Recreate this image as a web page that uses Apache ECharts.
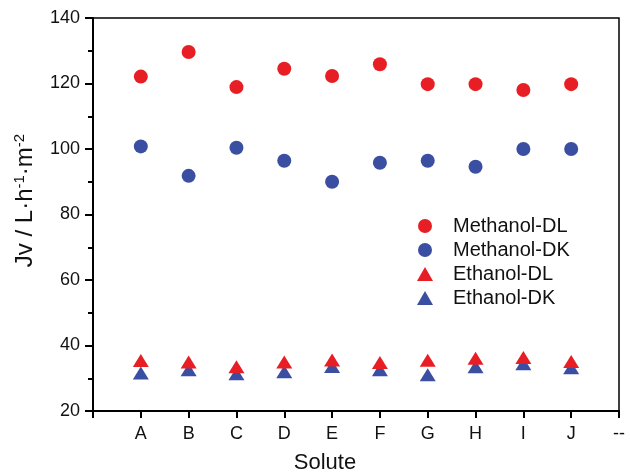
<!DOCTYPE html>
<html>
<head>
<meta charset="utf-8">
<script src="https://cdn.jsdelivr.net/npm/echarts@6/dist/echarts.min.js"></script>
<style>html,body{margin:0;padding:0;background:#fff}#c{width:630px;height:473px}</style>
</head>
<body>
<div id="c"></div>
<script>
const categories = ['', 'A', 'B', 'C', 'D', 'E', 'F', 'G', 'H', 'I', 'J', '--'];
const solutes = ['A', 'B', 'C', 'D', 'E', 'F', 'G', 'H', 'I', 'J'];
const methanolDL = [122.1, 129.6, 118.9, 124.5, 122.3, 125.9, 119.8, 119.8, 118.0, 119.8];
const methanolDK = [100.8, 91.8, 100.4, 96.4, 90.0, 95.8, 96.4, 94.6, 100.0, 100.0];
const ethanolDL = [35.4, 35.0, 33.5, 35.0, 35.6, 34.8, 35.5, 36.1, 36.3, 35.1];
const ethanolDK = [31.6, 32.6, 31.4, 32.0, 33.6, 32.6, 31.1, 33.5, 34.4, 33.2];
const yTicks = [20, 40, 60, 80, 100, 120, 140];

const RED = '#e81e25';
const BLUE = '#3a4ea2';
const FONT = 'Liberation Sans, Arial, sans-serif';

function pairs(vals) { return solutes.map((s, i) => [s, vals[i]]); }

const chart = echarts.init(document.getElementById('c'), null, {renderer: 'canvas'});
chart.setOption({
  animation: false,
  textStyle: {fontFamily: FONT},
  grid: {left: 93, top: 18, right: 11, bottom: 62, show: true, borderColor: '#000', borderWidth: 1.5,
    backgroundColor: 'transparent', containLabel: false, outerBoundsMode: 'none'},
  legend: {
    orient: 'vertical',
    left: 412, top: 211,
    itemWidth: 16, itemHeight: 14, itemGap: 4,
    textStyle: {fontSize: 20, color: '#111', fontFamily: FONT, padding: [0, 0, 0, 15]},
    data: [
      {name: 'Methanol-DL', icon: 'circle'},
      {name: 'Methanol-DK', icon: 'circle'},
      {name: 'Ethanol-DL', icon: 'triangle'},
      {name: 'Ethanol-DK', icon: 'triangle'}
    ]
  },
  xAxis: {
    type: 'category', data: categories, boundaryGap: false,
    name: 'Solute', nameLocation: 'middle', nameGap: 41,
    nameTextStyle: {fontSize: 22, color: '#111', fontFamily: FONT, padding: [0, 62, 0, 0]},
    axisLine: {lineStyle: {color: '#000', width: 2}},
    axisTick: {show: true, inside: false, length: 7, interval: 0, lineStyle: {color: '#000', width: 2}},
    axisLabel: {interval: 0, fontSize: 18, color: '#111', margin: 14, fontFamily: FONT},
    splitLine: {show: false}
  },
  yAxis: {
    type: 'value', min: 20, max: 140, interval: 20,
    name: 'Jv / L·h{sup|-1}·m{sup|-2}',
    nameLocation: 'middle', nameGap: 54, nameRotate: 90,
    nameTextStyle: {fontSize: 24, color: '#111', fontFamily: FONT, padding: [0, 0, 0, 28],
      rich: {sup: {fontSize: 15, verticalAlign: 'top', padding: [0, 0, 12, 0], color: '#111'}}},
    axisLine: {show: true, lineStyle: {color: '#000', width: 2}},
    axisTick: {show: true, inside: false, length: 8, lineStyle: {color: '#000', width: 2}},
    minorTick: {show: true, splitNumber: 2, length: 5, lineStyle: {color: '#000', width: 2}},
    axisLabel: {fontSize: 18, color: '#111', margin: 13, fontFamily: FONT,
      formatter: v => yTicks.includes(v) ? String(v) : ''},
    splitLine: {show: false}
  },
  series: [
    {name: 'Methanol-DL', type: 'scatter', symbol: 'circle', symbolSize: 14, itemStyle: {color: RED, opacity: 1}, data: pairs(methanolDL)},
    {name: 'Methanol-DK', type: 'scatter', symbol: 'circle', symbolSize: 14, itemStyle: {color: BLUE, opacity: 1}, data: pairs(methanolDK)},
    {name: 'Ethanol-DK', type: 'scatter', symbol: 'triangle', symbolSize: [16, 13], itemStyle: {color: BLUE, opacity: 1}, data: pairs(ethanolDK)},
    {name: 'Ethanol-DL', type: 'scatter', symbol: 'triangle', symbolSize: [16, 13], itemStyle: {color: RED, opacity: 1}, data: pairs(ethanolDL), z: 3}
  ]
});
</script>
</body>
</html>
